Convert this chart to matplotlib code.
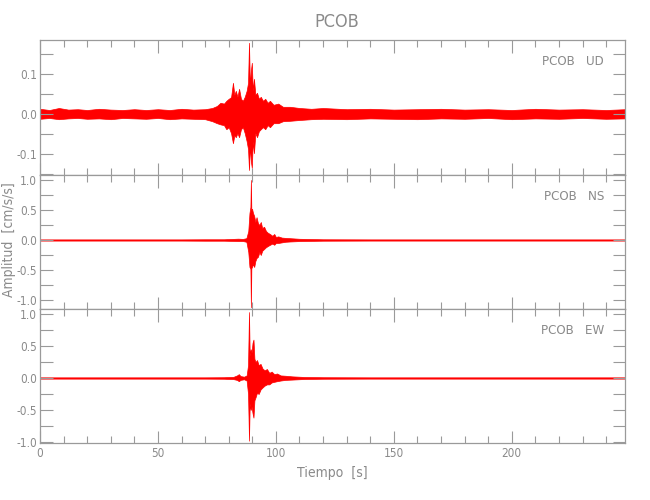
import matplotlib
matplotlib.use("Agg")
import matplotlib.pyplot as plt
from matplotlib import font_manager
from matplotlib.ticker import MultipleLocator, FormatStrFormatter

# ---------------- data ----------------
station = "PCOB"
components = ["UD", "NS", "EW"]
xlabel = "Tiempo  [s]"
ylabel = "Amplitud  [cm/s/s]"
x_ticks = [0, 50, 100, 150, 200]

# UD component: envelope (upper / lower) of the trace
ud_t = [0, 4, 8, 12, 16, 20, 25, 30, 35, 40,
        45, 50, 55, 60, 65, 70, 73, 75, 76.5, 78,
        79, 80, 81, 81.8, 82.4, 83, 83.7, 84.4, 85.2, 86,
        86.8, 87.6, 88.2, 88.6, 89.0, 89.4, 89.8, 90.2, 90.7, 91.3,
        92, 92.8, 93.6, 94.5, 95.5, 96.5, 97.5, 99, 101, 103,
        106, 110, 115, 120, 130, 140, 150, 160, 170, 180,
        190, 200, 210, 220, 230, 240, 248]
ud_hi = [.013, .010, .015, .011, .012, .010, .013, .011, .010, .012,
         .010, .012, .010, .013, .011, .012, .015, .020, .028, .026,
         .033, .038, .042, .078, .048, .058, .043, .063, .038, .033,
         .043, .058, .078, .178, .068, .108, .128, .058, .088, .048,
         .053, .038, .043, .033, .038, .028, .033, .023, .026, .018,
         .018, .015, .013, .015, .012, .013, .011, .012, .013, .011,
         .012, .010, .013, .011, .012, .010, .012]
ud_lo = [-.012, -.010, -.013, -.011, -.010, -.012, -.011, -.013, -.010, -.011,
         -.012, -.010, -.013, -.011, -.012, -.013, -.018, -.023, -.026, -.028,
         -.038, -.033, -.048, -.073, -.053, -.058, -.048, -.058, -.038, -.033,
         -.048, -.068, -.088, -.140, -.078, -.118, -.135, -.068, -.098, -.048,
         -.058, -.043, -.038, -.033, -.038, -.028, -.033, -.023, -.023, -.018,
         -.017, -.015, -.013, -.012, -.013, -.011, -.012, -.013, -.011, -.012,
         -.010, -.013, -.011, -.012, -.010, -.012, -.011]

# NS component
ns_t = [0, 10, 20, 30, 40, 50, 60, 70, 78, 84,
        86, 87.5, 88.3, 88.8, 89.2, 89.4, 89.6, 89.9, 90.3, 90.8,
        91.3, 91.8, 92.4, 93, 93.6, 94.2, 95, 95.8, 96.6, 97.5,
        98.5, 99.3, 100, 101, 102.5, 104, 106, 110, 120, 140,
        160, 180, 200, 220, 248]
ns_hi = [.010, .010, .010, .010, .010, .010, .010, .012, .012, .022,
         .018, .030, .150, .450, .550, 1.00, .500, .520, .450, .400,
         .300, .380, .280, .250, .300, .200, .220, .150, .120, .100,
         .070, .100, .050, .060, .040, .035, .030, .020, .012, .010,
         .010, .010, .010, .010, .010]
ns_lo = [-.010, -.010, -.010, -.010, -.010, -.010, -.010, -.012, -.012, -.018,
         -.018, -.030, -.200, -.450, -.480, -1.12, -.470, -.450, -.400, -.450,
         -.350, -.300, -.280, -.200, -.250, -.180, -.150, -.120, -.100, -.080,
         -.060, -.080, -.050, -.050, -.040, -.030, -.025, -.018, -.012, -.010,
         -.010, -.010, -.010, -.010, -.010]

# EW component
ew_t = [0, 10, 20, 30, 40, 50, 60, 70, 78, 82,
        83.5, 84.3, 85, 86.5, 87.6, 88.2, 88.6, 88.9, 89.3, 89.7,
        90.1, 90.5, 90.9, 91.4, 92, 92.7, 93.5, 94.3, 95.2, 96.2,
        97.2, 98.2, 99.3, 100.5, 102, 104, 107, 112, 120, 140,
        160, 180, 200, 220, 248]
ew_hi = [.010, .010, .010, .010, .010, .010, .010, .010, .012, .018,
         .040, .060, .030, .020, .040, .200, 1.03, .350, .450, .400,
         .550, .600, .300, .250, .280, .200, .220, .150, .120, .140,
         .080, .100, .060, .070, .040, .035, .025, .016, .012, .010,
         .010, .010, .010, .010, .010]
ew_lo = [-.010, -.010, -.010, -.010, -.010, -.010, -.010, -.010, -.012, -.018,
         -.030, -.050, -.030, -.020, -.040, -.250, -.980, -.400, -.500, -.450,
         -.550, -.620, -.350, -.300, -.230, -.250, -.180, -.150, -.120, -.100,
         -.100, -.070, -.060, -.050, -.040, -.030, -.025, -.016, -.012, -.010,
         -.010, -.010, -.010, -.010, -.010]

# ---------------- style ----------------
names = {f.name for f in font_manager.fontManager.ttflist}
if "Liberation Sans Narrow" in names:
    plt.rcParams["font.family"] = ["Liberation Sans Narrow", "DejaVu Sans"]
else:
    plt.rcParams["font.family"] = ["DejaVu Sans"]
    plt.rcParams["font.stretch"] = "condensed"

GRAY = "#8a8a8a"
FRAME = "#9a9a9a"
RED = "#ff0000"

fig = plt.figure(figsize=(6.5, 5), dpi=100)

W, H = 650.0, 500.0
left_px, right_px = 40, 625
panels_px = [(40, 175), (175, 309), (309, 443)]
ylims = [(-0.1525, 0.185), (-1.15, 1.083), (-1.016, 1.078)]
ymajor = [0.1, 0.5, 0.5]
yminor = [0.05, 0.25, 0.25]
series = [(ud_t, ud_hi, ud_lo), (ns_t, ns_hi, ns_lo), (ew_t, ew_hi, ew_lo)]

axes = []
for i, ((top, bot), comp, (t, hi, lo)) in enumerate(zip(panels_px, components, series)):
    ax = fig.add_axes([left_px / W, 1 - bot / H, (right_px - left_px) / W, (bot - top) / H])
    ax.fill_between(t, lo, hi, color=RED, linewidth=0.5, edgecolor=RED)
    ax.set_xlim(0, 248)
    ax.set_ylim(*ylims[i])
    ax.xaxis.set_major_locator(MultipleLocator(50))
    ax.xaxis.set_minor_locator(MultipleLocator(10))
    ax.yaxis.set_major_locator(MultipleLocator(ymajor[i]))
    ax.yaxis.set_minor_locator(MultipleLocator(yminor[i]))
    ax.yaxis.set_major_formatter(FormatStrFormatter("%.1f"))
    ax.tick_params(axis="both", which="both", direction="in", top=True, right=True,
                   colors=FRAME, labelcolor=GRAY, labelsize=8.5, width=0.8)
    ax.tick_params(axis="x", which="major", length=9)
    ax.tick_params(axis="x", which="minor", length=5)
    ax.tick_params(axis="y", which="both", length=9, pad=2)
    for s in ax.spines.values():
        s.set_color(FRAME)
        s.set_linewidth(0.9)
    if i < 2:
        ax.tick_params(axis="x", labelbottom=False)
    ax.text(0.964, 0.84, f"{station}   {comp}", transform=ax.transAxes,
            ha="right", va="center", color=GRAY, fontsize=9.5)
    axes.append(ax)

axes[-1].set_xticks(x_ticks)
axes[-1].tick_params(axis="x", pad=3)
axes[-1].set_xlabel(xlabel, color=GRAY, fontsize=10, labelpad=4)

fig.text(337 / W, 1 - 22 / H, station, ha="center", va="center", color=GRAY, fontsize=13)
fig.text(9 / W, 1 - 240 / H, ylabel, ha="center", va="center", rotation=90,
         color=GRAY, fontsize=10)

fig.savefig("out.png", dpi=100)
